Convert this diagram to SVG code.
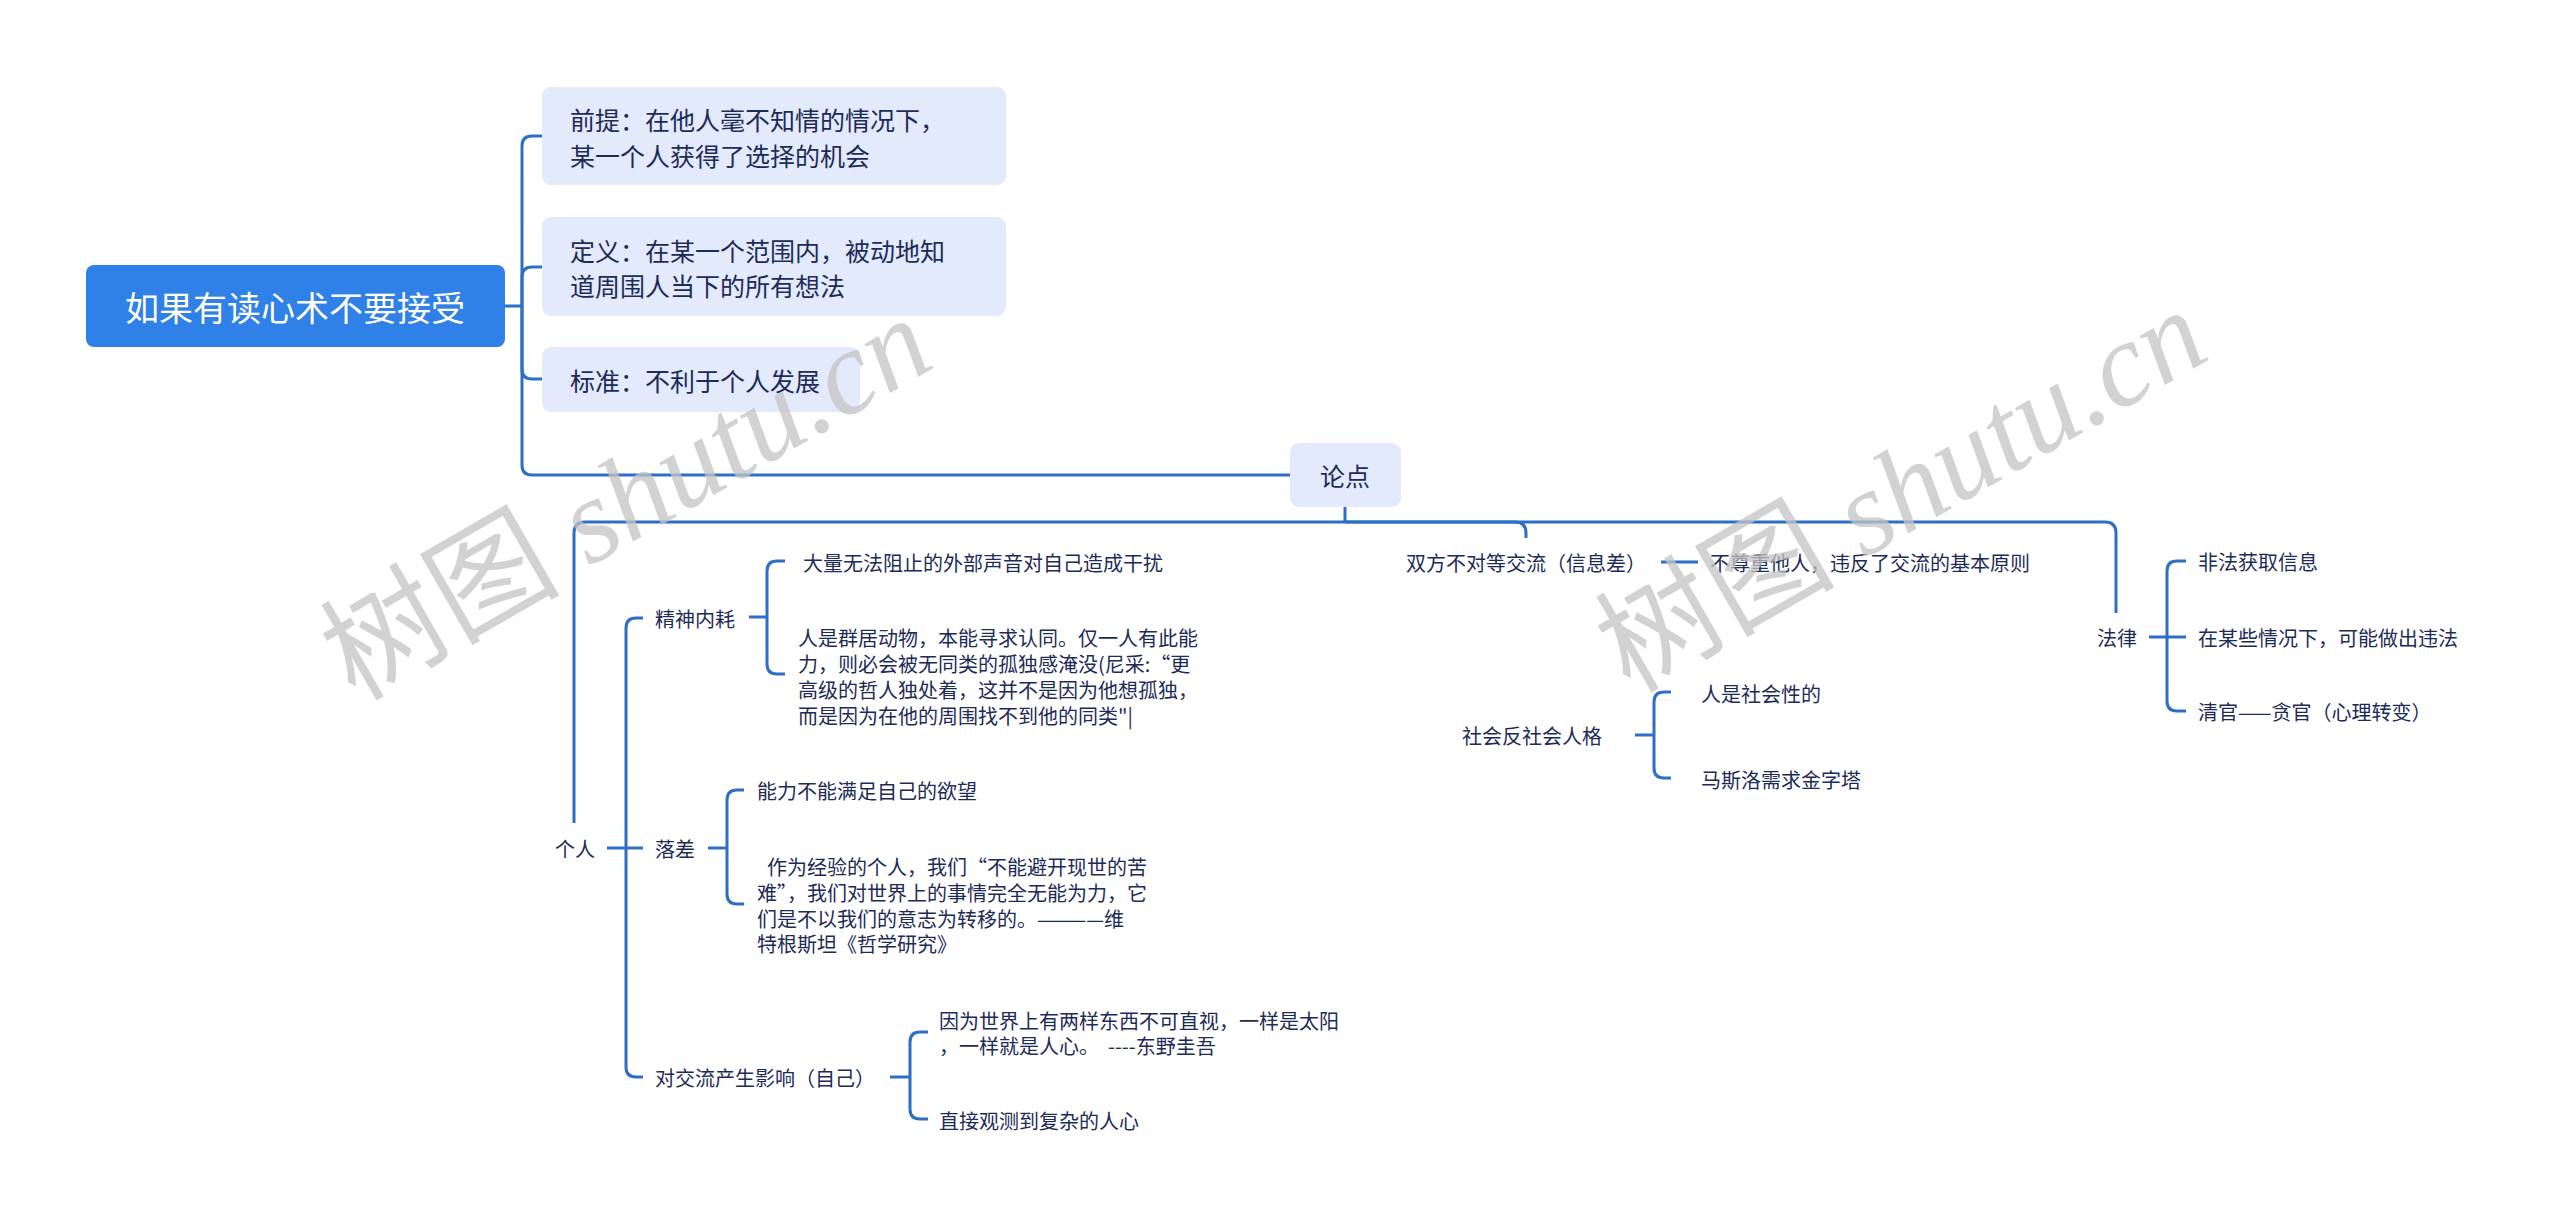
<svg xmlns="http://www.w3.org/2000/svg" width="2560" height="1229" viewBox="0 0 2560 1229">
<style>
text{font-family:"Noto Sans CJK SC","Noto Sans",sans-serif;fill:#1d2b57;dominant-baseline:central}
.root{font-size:34px;fill:#ffffff;text-anchor:middle}
.l1{font-size:25px}
.l2{font-size:20px}
.box{fill:#e3eafc}
.c{fill:none;stroke:#2d6fc6;stroke-width:3;stroke-linecap:butt;stroke-linejoin:round}
.wm{font-family:"Liberation Serif","Noto Sans CJK SC",serif;font-size:120px;fill:#c4c4c4;opacity:0.75;dominant-baseline:alphabetic}
</style>
<rect width="2560" height="1229" fill="#ffffff"/>
<g id="connectors">
<path class="c" d="M505,306 H522"/>
<path class="c" d="M522,306 V146 Q522,136 532,136 H542"/>
<path class="c" d="M522,306 V277 Q522,267 532,267 H542"/>
<path class="c" d="M522,306 V369 Q522,379 532,379 H542"/>
<path class="c" d="M522,306 V465 Q522,475 532,475 H1290"/>
<path class="c" d="M1345,507 V522"/>
<path class="c" d="M1345,522 H585 Q574,522 574,533 V823"/>
<path class="c" d="M1345,522 H1515 Q1526,522 1526,533 V538"/>
<path class="c" d="M1345,522 H2105 Q2116,522 2116,533 V613"/>
<path class="c" d="M607,848 H626"/>
<path class="c" d="M626,848 V628 Q626,618 636,618 H643"/>
<path class="c" d="M626,848 H643"/>
<path class="c" d="M626,848 V1067 Q626,1077 636,1077 H643"/>
<path class="c" d="M749,617 H767"/>
<path class="c" d="M767,617 V571 Q767,561 777,561 H785"/>
<path class="c" d="M767,617 V664 Q767,674 777,674 H785"/>
<path class="c" d="M708,848 H727"/>
<path class="c" d="M727,848 V800 Q727,790 737,790 H744"/>
<path class="c" d="M727,848 V894 Q727,904 737,904 H744"/>
<path class="c" d="M890,1077 H910"/>
<path class="c" d="M910,1077 V1042 Q910,1032 920,1032 H928"/>
<path class="c" d="M910,1077 V1109 Q910,1119 920,1119 H928"/>
<path class="c" d="M1661,562 H1698"/>
<path class="c" d="M1635,735 H1654"/>
<path class="c" d="M1654,735 V702 Q1654,692 1664,692 H1671"/>
<path class="c" d="M1654,735 V768 Q1654,778 1664,778 H1671"/>
<path class="c" d="M2149,637 H2186"/>
<path class="c" d="M2167,637 V571 Q2167,561 2177,561 H2186"/>
<path class="c" d="M2167,637 V701 Q2167,711 2177,711 H2186"/>
</g>
<g id="root">
<rect x="86" y="265" width="419" height="82" rx="8" fill="#2f80e7"/>
<text class="root" x="295" y="306">如果有读心术不要接受</text>
</g>
<g id="n-qianti">
<rect class="box" x="542" y="87" width="464" height="98" rx="9"/>
<text class="l1" x="570" y="119">前提：在他人毫不知情的情况下，</text>
<text class="l1" x="570" y="155">某一个人获得了选择的机会</text>
</g>
<g id="n-dingyi">
<rect class="box" x="542" y="217" width="464" height="99" rx="9"/>
<text class="l1" x="570" y="250">定义：在某一个范围内，被动地知</text>
<text class="l1" x="570" y="285">道周围人当下的所有想法</text>
</g>
<g id="n-biaozhun">
<rect class="box" x="542" y="347" width="318" height="65" rx="9"/>
<text class="l1" x="570" y="380">标准：不利于个人发展</text>
</g>
<g id="n-lundian">
<rect class="box" x="1290" y="443" width="111" height="64" rx="9"/>
<text class="l1" x="1345" y="475" text-anchor="middle">论点</text>
</g>
<g id="n-geren"><text class="l2" x="555" y="848">个人</text></g>
<g id="n-jingshen"><text class="l2" x="655" y="618">精神内耗</text></g>
<g id="n-jingshen-1"><text class="l2" x="803" y="562">大量无法阻止的外部声音对自己造成干扰</text></g>
<g id="n-jingshen-2">
<text class="l2" x="798" y="637">人是群居动物，本能寻求认同。仅一人有此能</text>
<text class="l2" x="798" y="663">力，则必会被无同类的孤独感淹没(尼采:“更</text>
<text class="l2" x="798" y="689">高级的哲人独处着，这并不是因为他想孤独，</text>
<text class="l2" x="798" y="715">而是因为在他的周围找不到他的同类"|</text>
</g>
<g id="n-luocha"><text class="l2" x="655" y="848">落差</text></g>
<g id="n-luocha-1"><text class="l2" x="757" y="790">能力不能满足自己的欲望</text></g>
<g id="n-luocha-2">
<text class="l2" x="767" y="866">作为经验的个人，我们“不能避开现世的苦</text>
<text class="l2" x="757" y="892">难”，我们对世界上的事情完全无能为力，它</text>
<text class="l2" x="757" y="918">们是不以我们的意志为转移的。————维</text>
<text class="l2" x="757" y="943">特根斯坦《哲学研究》</text>
</g>
<g id="n-jiaoliu"><text class="l2" x="655" y="1077">对交流产生影响（自己）</text></g>
<g id="n-jiaoliu-1">
<text class="l2" x="939" y="1020">因为世界上有两样东西不可直视，一样是太阳</text>
<text class="l2" x="939" y="1045" xml:space="preserve">，一样就是人心。  ----东野圭吾</text>
</g>
<g id="n-jiaoliu-2"><text class="l2" x="939" y="1120">直接观测到复杂的人心</text></g>
<g id="n-shuangfang"><text class="l2" x="1406" y="562">双方不对等交流（信息差）</text></g>
<g id="n-shuangfang-1"><text class="l2" x="1710" y="562">不尊重他人，违反了交流的基本原则</text></g>
<g id="n-shehui"><text class="l2" x="1462" y="735">社会反社会人格</text></g>
<g id="n-shehui-1"><text class="l2" x="1701" y="693">人是社会性的</text></g>
<g id="n-shehui-2"><text class="l2" x="1701" y="779">马斯洛需求金字塔</text></g>
<g id="n-falv"><text class="l2" x="2097" y="637">法律</text></g>
<g id="n-falv-1"><text class="l2" x="2198" y="561">非法获取信息</text></g>
<g id="n-falv-2"><text class="l2" x="2198" y="637">在某些情况下，可能做出违法</text></g>
<g id="n-falv-3"><text class="l2" x="2198" y="711">清官——贪官（心理转变）</text></g>
<g id="watermark">
<text class="wm" transform="translate(355,702) rotate(-30)">树图 <tspan font-style="italic">shutu.cn</tspan></text>
<text class="wm" transform="translate(1630,694) rotate(-30)">树图 <tspan font-style="italic">shutu.cn</tspan></text>
</g>
</svg>
